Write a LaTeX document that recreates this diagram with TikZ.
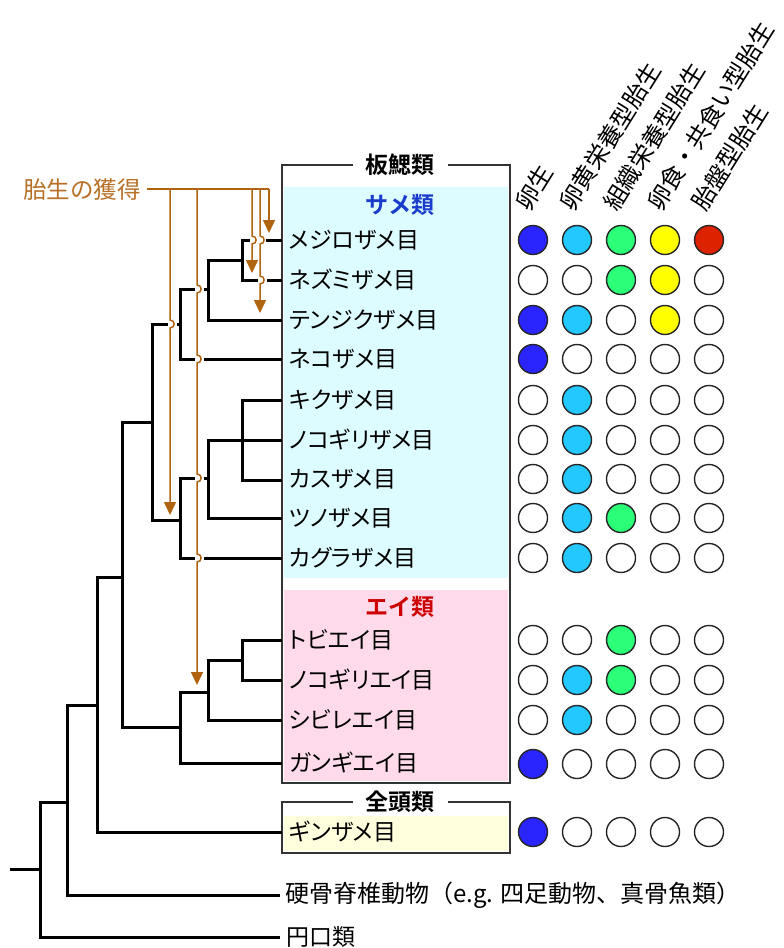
\documentclass[tikz,border=0pt]{standalone}
\usepackage{fontspec}
\usetikzlibrary{arrows.meta}
\newfontfamily\jp{Noto Sans CJK JP}[RawFeature=+palt, BoldFont={Noto Sans CJK JP Bold}]
\newfontfamily\jpf{Noto Sans CJK JP}[BoldFont={Noto Sans CJK JP Bold}]
\definecolor{brn}{RGB}{176,100,16}
\definecolor{brntxt}{RGB}{184,112,40}
\definecolor{cyanf}{RGB}{220,252,255}
\definecolor{pinkf}{RGB}{255,218,235}
\definecolor{yelf}{RGB}{255,255,221}
\definecolor{cB}{RGB}{42,36,255}
\definecolor{cC}{RGB}{34,200,255}
\definecolor{cG}{RGB}{43,255,119}
\definecolor{cY}{RGB}{255,255,0}
\definecolor{cR}{RGB}{221,34,0}
\definecolor{samec}{RGB}{26,60,204}
\definecolor{eic}{RGB}{204,0,0}
\begin{document}
\begin{tikzpicture}[x=1pt,y=-1pt,
  br/.style={line width=3pt, black},
  ar/.style={line width=1.5pt, draw=brn},
  tipd/.style={-{Triangle[width=12pt,length=13pt]}},
  gap/.style={fill=white},
  frame/.style={draw=black!80, line width=1.3pt},
  dot/.style={circle, draw=black!85, line width=1.4pt, minimum size=29pt, inner sep=0pt},
  lbl/.style={anchor=west, inner sep=0pt, font=\jp\fontsize{23}{23}\selectfont},
  hdr/.style={anchor=south west, rotate=58, inner sep=0pt, font=\jpf\fontsize{24}{24}\selectfont},
  ttl/.style={inner sep=0pt, inner xsep=13pt, font=\jpf\bfseries\fontsize{23}{23}\selectfont}
]
\useasboundingbox (0,0) rectangle (784,948);
% boxes
\fill[cyanf] (284,187) rectangle (508,578);
\fill[pinkf] (284,590) rectangle (508,781);
\draw[frame] (282,165) rectangle (510,783);
\node[ttl, fill=white] (tban) at (400,165) {板鰓類};
\fill[yelf] (284,816) rectangle (508,851);
\draw[frame] (282,802) rectangle (510,853);
\node[ttl, fill=white] (tzen) at (400,802) {全頭類};
\node[ttl, text=samec] (tsame) at (400,205) {サメ類};
\node[ttl, text=eic] (tei) at (400,607) {エイ類};
% labels
\node[lbl] (l1) at (289,240) {メジロザメ目};
\node[lbl] (l2) at (289,280) {ネズミザメ目};
\node[lbl] (l3) at (289,320) {テンジクザメ目};
\node[lbl] (l4) at (289,359) {ネコザメ目};
\node[lbl] (l5) at (289,400) {キクザメ目};
\node[lbl] (l6) at (289,440) {ノコギリザメ目};
\node[lbl] (l7) at (289,479) {カスザメ目};
\node[lbl] (l8) at (289,518) {ツノザメ目};
\node[lbl] (l9) at (289,558) {カグラザメ目};
\node[lbl] (l10) at (289,640) {トビエイ目};
\node[lbl] (l11) at (289,680) {ノコギリエイ目};
\node[lbl] (l12) at (289,720) {シビレエイ目};
\node[lbl] (l13) at (289,763) {ガンギエイ目};
\node[lbl] (l14) at (289,832) {ギンザメ目};
\node[lbl, font=\jpf\fontsize{24}{24}\selectfont] (l15) at (285,895) {硬骨脊椎動物（e.g. 四足動物、真骨魚類）};
\node[lbl] (l16) at (286,937) {円口類};
% column headers
\node[hdr] (h1) at (531,214) {卵生};
\node[hdr] (h2) at (575,214) {卵黄栄養型胎生};
\node[hdr] (h3) at (619,214) {組織栄養型胎生};
\node[hdr] (h4) at (663,214) {卵食・共食い型胎生};
\node[hdr] (h5) at (707,214) {胎盤型胎生};
% circles
\foreach \yy/\a/\b/\c/\d/\e [count=\i] in {
  240/cB/cC/cG/cY/cR,
  280/white/white/cG/cY/white,
  320/cB/cC/white/cY/white,
  359/cB/white/white/white/white,
  400/white/cC/white/white/white,
  440/white/cC/white/white/white,
  479/white/cC/white/white/white,
  518/white/cC/cG/white/white,
  558/white/cC/white/white/white,
  640/white/white/cG/white/white,
  680/white/cC/cG/white/white,
  720/white/cC/white/white/white,
  764/cB/white/white/white/white,
  832/cB/white/white/white/white}
{
  \foreach \f/\xx [count=\j] in {\a/533,\b/577,\c/621,\d/665,\e/709}
    \node[dot, fill=\f] (c-\i-\j) at (\xx,\yy) {};
}
% tree
\draw[br] (282,240) -| (242,280) -- (282,280);
\draw[br] (242,260) -| (208,320) -- (282,320);
\draw[br] (208,289) -| (180,359) -- (282,359);
\draw[br] (180,324) -| (152,520) -- (180,520);
\draw[br] (282,400) -| (242,480) -- (282,480);
\draw[br] (282,440) -| (208,518) -- (282,518);
\draw[br] (208,478) -| (180,558) -- (282,558);
\draw[br] (152,422) -| (122,727) -- (180,727);
\draw[br] (282,640) -| (242,680) -- (282,680);
\draw[br] (242,660) -| (208,720) -- (282,720);
\draw[br] (208,692) -| (180,763) -- (282,763);
\draw[br] (122,577) -| (97,832) -- (282,832);
\draw[br] (97,705) -| (67,895) -- (280,895);
\draw[br] (67,802) -| (40,937) -- (280,937);
\draw[br] (10,869) -- (40,869);
% gaps at crossings
\fill[gap] (167.5,321) rectangle (176.5,327);
\fill[gap] (194.5,286) rectangle (203.5,292);
\fill[gap] (194.5,356) rectangle (203.5,362);
\fill[gap] (194.5,475) rectangle (203.5,481);
\fill[gap] (194.5,555) rectangle (203.5,561);
\fill[gap] (249.5,237) rectangle (257.5,243);
\fill[gap] (257.5,237) rectangle (265.5,243);
\fill[gap] (257.5,277) rectangle (266.5,283);
% brown arrows
\node[anchor=east, inner sep=0pt, text=brntxt, font=\jpf\fontsize{23.5}{23.5}\selectfont] (gain) at (141,190) {胎生の獲得};
\draw[ar] (gain.east) ++(6,-1) -- (269,189);
\draw[ar, tipd] (170,189) -- (170,320) .. controls (175.5,320) and (175.5,328) .. (170,328) -- (170,515);
\draw[ar, tipd] (197,189) -- (197,285) .. controls (202.5,285) and (202.5,293) .. (197,293)
  -- (197,355) .. controls (202.5,355) and (202.5,363) .. (197,363)
  -- (197,474) .. controls (202.5,474) and (202.5,482) .. (197,482)
  -- (197,554) .. controls (202.5,554) and (202.5,562) .. (197,562) -- (197,685);
\draw[ar, tipd] (252,189) -- (252,236) .. controls (257.5,236) and (257.5,244) .. (252,244) -- (252,273);
\draw[ar, tipd] (260,189) -- (260,236) .. controls (265.5,236) and (265.5,244) .. (260,244)
  -- (260,276) .. controls (265.5,276) and (265.5,284) .. (260,284) -- (260,313);
\draw[ar, tipd] (269,189) -- (269,233);
\end{tikzpicture}
\end{document}
